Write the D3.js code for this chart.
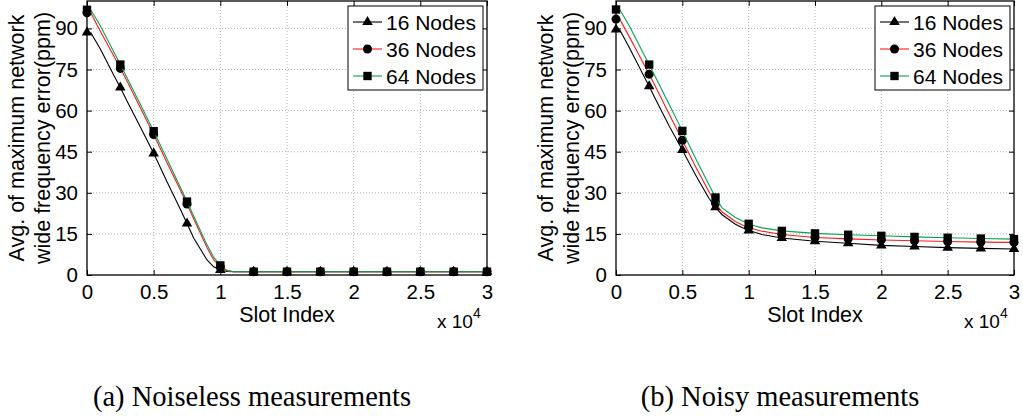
<!DOCTYPE html>
<html>
<head>
<meta charset="utf-8">
<title>Frequency error vs slot index</title>
<script src="https://cdnjs.cloudflare.com/ajax/libs/d3/7.8.5/d3.min.js"></script>
<style type="text/css">
    body { margin: 0; background: #fff; }
    svg { display: block; font-family: "Liberation Sans", Arial, Helvetica, sans-serif; }
    .grid line { stroke: #b4b4b4; stroke-width: 1; stroke-dasharray: 1,2; }
    .caption { font-family: "Liberation Serif", "DejaVu Serif", serif; }
</style>
</head>
<body>
<script type="text/javascript">
// slot index, in units of 10^4
var slotX = [0, 0.03, 0.1, 0.2, 0.25, 0.3, 0.4, 0.5, 0.6, 0.7, 0.75, 0.8, 0.9, 0.95, 1.0, 1.05, 1.1, 1.25, 1.5, 1.75, 2, 2.25, 2.5, 2.75, 3];

// (a) noiseless
var noiseless16 = [88.5, 88.3, 82.5, 73, 68.4, 63.5, 54, 44.4, 34, 24, 18.8, 13.5, 5.5, 3, 1.8, 1.3, 1.2, 1.2, 1.2, 1.2, 1.2, 1.2, 1.2, 1.2, 1.2];
var noiseless36 = [95.7, 95.5, 89, 80, 75.4, 70.8, 61, 51.3, 41, 31, 25.9, 20.5, 10, 5.5, 3, 1.6, 1.2, 1.2, 1.2, 1.2, 1.2, 1.2, 1.2, 1.2, 1.2];
var noiseless64 = [96.8, 96.6, 91, 81.5, 76.8, 72, 62.3, 52.5, 42.3, 32, 26.8, 21.5, 11, 6.5, 3.5, 1.7, 1.2, 1.2, 1.2, 1.2, 1.2, 1.2, 1.2, 1.2, 1.2];

// (b) noisy
var noisy16 = [89.6, 89.3, 83, 73.5, 68.9, 64, 54.5, 45.6, 36.5, 28, 24.7, 22, 18.5, 17.3, 16.3, 15.5, 14.8, 13.5, 12.3, 11.6, 10.8, 10.4, 10, 9.7, 9.5];
var noisy36 = [93.4, 93.2, 87, 77.8, 73.3, 68.5, 58.8, 49.2, 39.5, 30.5, 26.2, 23, 19.5, 18.3, 17.3, 16.6, 16, 14.8, 13.7, 13.2, 12.8, 12.5, 12.2, 12, 11.9];
var noisy64 = [96.9, 96.7, 91, 81.5, 76.8, 72, 62.3, 52.6, 42.5, 33, 28.3, 24.5, 21, 19.8, 18.7, 17.9, 17.2, 16.1, 15.2, 14.7, 14.3, 13.9, 13.6, 13.3, 13.1];

var seriesNames = ["16 Nodes", "36 Nodes", "64 Nodes"];
var xTicks = [0, 0.5, 1, 1.5, 2, 2.5, 3];
var yTicks = [0, 15, 30, 45, 60, 75, 90];
var captions = ["(a) Noiseless measurements", "(b) Noisy measurements"];

var colors = ["#000000", "#ff1a1a", "#00a651"];
var shapes = [d3.symbolTriangle, d3.symbolCircle, d3.symbolSquare];
var shapeSizes = [48, 64, 70];

var svg = d3.select("body").append("svg")
    .attr("width", 1023)
    .attr("height", 418);

var panels = [
    {x0: 87, x1: 487, data: [noiseless16, noiseless36, noiseless64], caption: captions[0], capX: 252},
    {x0: 616, x1: 1014, data: [noisy16, noisy36, noisy64], caption: captions[1], capX: 780}
];

// plot area top / bottom in px
var plotTop = 1, plotBottom = 275;

panels.forEach(function(p) {
    var xScale = d3.scaleLinear().domain([0, 3]).range([p.x0, p.x1]);
    var yScale = d3.scaleLinear().domain([0, 100]).range([plotBottom, plotTop]);
    var g = svg.append("g");

    // dotted grid
    var grid = g.append("g").attr("class", "grid");
    grid.selectAll(".gx").data(xTicks.slice(1, -1)).enter().append("line")
        .attr("x1", function(d){ return xScale(d); })
        .attr("x2", function(d){ return xScale(d); })
        .attr("y1", plotTop).attr("y2", plotBottom);
    grid.selectAll(".gy").data(yTicks.slice(1)).enter().append("line")
        .attr("x1", p.x0).attr("x2", p.x1)
        .attr("y1", function(d){ return yScale(d); })
        .attr("y2", function(d){ return yScale(d); });

    // axes, ticks pointing inwards on all four sides
    var xAxisB = d3.axisBottom(xScale).tickValues(xTicks).tickSize(-5).tickPadding(9).tickFormat(d3.format("~g"));
    var xAxisT = d3.axisTop(xScale).tickValues(xTicks).tickSize(-5).tickFormat("");
    var yAxisL = d3.axisLeft(yScale).tickValues(yTicks).tickSize(-5).tickPadding(9);
    var yAxisR = d3.axisRight(yScale).tickValues(yTicks).tickSize(-5).tickFormat("");

    g.append("g").attr("transform", "translate(0," + plotBottom + ")").call(xAxisB);
    g.append("g").attr("transform", "translate(0," + plotTop + ")").call(xAxisT);
    g.append("g").attr("transform", "translate(" + p.x0 + ",0)").call(yAxisL);
    g.append("g").attr("transform", "translate(" + p.x1 + ",0)").call(yAxisR);

    g.selectAll(".domain").remove();
    g.selectAll(".tick line").attr("stroke", "#000").attr("stroke-width", 1);
    g.selectAll(".tick text")
        .attr("fill", "#000")
        .style("font-size", "20.5px")
        .style("font-family", "'Liberation Sans', Arial, sans-serif");

    g.append("rect")
        .attr("x", p.x0).attr("y", plotTop)
        .attr("width", p.x1 - p.x0).attr("height", plotBottom - plotTop)
        .attr("fill", "none").attr("stroke", "#000").attr("stroke-width", 1.3);

    // series
    var line = d3.line()
        .x(function(d, i){ return xScale(slotX[i]); })
        .y(function(d){ return yScale(d); });

    p.data.forEach(function(vals, k) {
        g.append("path")
            .datum(vals)
            .attr("d", line)
            .attr("fill", "none")
            .attr("stroke", colors[k])
            .attr("stroke-width", 1.1);

        var pts = slotX.map(function(x, i){ return {x: x, y: vals[i]}; })
            .filter(function(d){ return Math.abs(d.x * 4 - Math.round(d.x * 4)) < 1e-9; });

        g.selectAll(".m" + k).data(pts).enter().append("path")
            .attr("d", d3.symbol().type(shapes[k]).size(shapeSizes[k]))
            .attr("transform", function(d){ return "translate(" + xScale(d.x) + "," + yScale(d.y) + ")"; })
            .attr("fill", "#000");
    });

    // axis labels
    g.append("text")
        .attr("x", (p.x0 + p.x1) / 2).attr("y", 322)
        .attr("text-anchor", "middle")
        .style("font-size", "21.5px")
        .text("Slot Index");

    var mult = g.append("text")
        .attr("x", p.x1 - 50).attr("y", 328)
        .style("font-size", "19px");
    mult.append("tspan").text("x 10");
    mult.append("tspan").attr("dy", -10).style("font-size", "14px").text("4");

    var cy = (plotTop + plotBottom) / 2;
    g.append("text")
        .attr("transform", "translate(" + (p.x0 - 63) + "," + cy + ") rotate(-90)")
        .attr("text-anchor", "middle")
        .style("font-size", "21.5px")
        .text("Avg. of maximum network");
    g.append("text")
        .attr("transform", "translate(" + (p.x0 - 37) + "," + cy + ") rotate(-90)")
        .attr("text-anchor", "middle")
        .style("font-size", "21.5px")
        .text("wide frequency error(ppm)");

    // legend
    var lx = p.x1 - 4 - 135, ly = 6;
    var leg = g.append("g").attr("transform", "translate(" + lx + "," + ly + ")");
    leg.append("rect")
        .attr("width", 135).attr("height", 84)
        .attr("fill", "#fff").attr("stroke", "#000").attr("stroke-width", 1);
    seriesNames.forEach(function(name, k) {
        var ry = 16 + k * 27;
        leg.append("line")
            .attr("x1", 5).attr("x2", 34)
            .attr("y1", ry).attr("y2", ry)
            .attr("stroke", colors[k]).attr("stroke-width", 1.1);
        leg.append("path")
            .attr("d", d3.symbol().type(shapes[k]).size(shapeSizes[k]))
            .attr("transform", "translate(19.5," + ry + ")")
            .attr("fill", "#000");
        leg.append("text")
            .attr("x", 38).attr("y", ry + 7.5)
            .style("font-size", "21px")
            .text(name);
    });

    // caption
    svg.append("text")
        .attr("class", "caption")
        .attr("x", p.capX).attr("y", 406)
        .attr("text-anchor", "middle")
        .style("font-size", "28.5px")
        .text(p.caption);
});
</script>
</body>
</html>
